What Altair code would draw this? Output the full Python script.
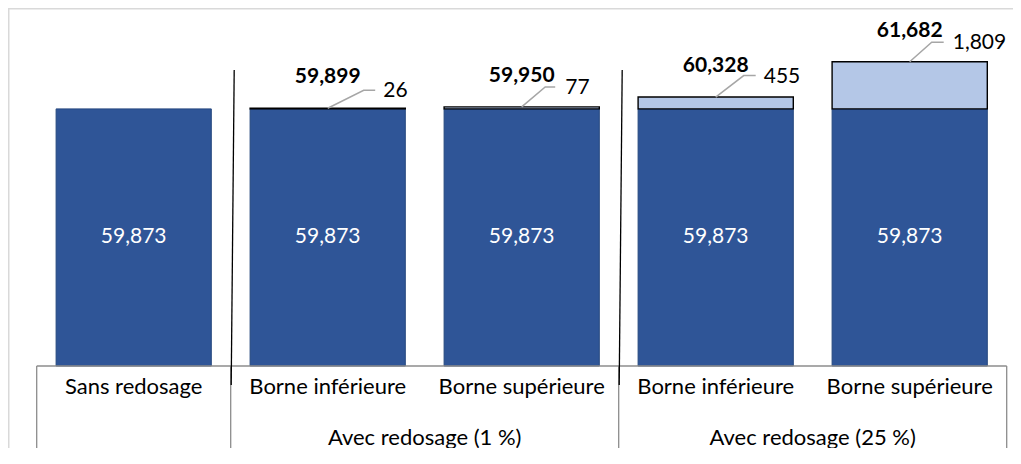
import altair as alt
import pandas as pd

# ---------------- data ----------------
categories = ["Sans redosage", "Borne inférieure", "Borne supérieure",
              "Borne inférieure", "Borne supérieure"]
groups = ["", "Avec redosage (1 %)", "Avec redosage (1 %)",
          "Avec redosage (25 %)", "Avec redosage (25 %)"]
base_values = [59873, 59873, 59873, 59873, 59873]
increments = [0, 26, 77, 455, 1809]
totals = [59873, 59899, 59950, 60328, 61682]
axis_min = 50000

# ---------------- layout / style ----------------
FONT = "Lato"
FS = 21      # numbers
FS_CAT = 22  # category table
W, H = 1005, 440
x_range = [28.7, 998.7]
y_base_px = 358
units_per_px = 38.4
y_max = axis_min + y_base_px * units_per_px
px_per_cat = (x_range[1] - x_range[0]) / len(categories)
bar_half = 0.4
# leader layout per bar in px: (elbow dx, elbow dy, end dx, label dx)
leader_layout = [None, (36, 18, 47.5, 55.5), (23.5, 20, 33.5, 43.5),
                 (28, 21.5, 40, 48), (22, 19.5, 34, 43)]

xs = alt.Scale(domain=[-0.5, len(categories) - 0.5], range=x_range, nice=False, zero=False)
ys = alt.Scale(domain=[axis_min, y_max], range=[y_base_px, 0], nice=False, zero=False)

n = len(categories)
df = pd.DataFrame({
    "idx": list(range(n)),
    "cat": categories,
    "grp": groups,
    "base": base_values,
    "inc": increments,
    "total": totals,
})
df["x0"] = df["idx"] - bar_half
df["x1"] = df["idx"] + bar_half
df["floor"] = axis_min
df["mid"] = (df["floor"] + df["base"]) / 2
dinc = df[df["inc"] > 0]

X = lambda f: alt.X(f, scale=xs, axis=None)
Y = lambda f: alt.Y(f, scale=ys, axis=None)

base_bars = alt.Chart(df).mark_rect(fill="#2F5597", stroke="#26487F", strokeWidth=1).encode(
    x=X("x0:Q"), x2="x1:Q", y=Y("floor:Q"), y2="base:Q")

inc_bars = alt.Chart(dinc).mark_rect(fill="#B4C7E7", stroke="#000000", strokeWidth=1.4).encode(
    x=X("x0:Q"), x2="x1:Q", y=Y("base:Q"), y2="total:Q")

base_labels = alt.Chart(df).mark_text(color="white", font=FONT, fontSize=FS, baseline="middle").encode(
    x=X("idx:Q"), y=Y("mid:Q"), text=alt.Text("base:Q", format=",d"))

total_labels = alt.Chart(dinc).mark_text(color="black", font=FONT, fontSize=FS, fontWeight="bold",
                                         baseline="alphabetic", dy=-25).encode(
    x=X("idx:Q"), y=Y("total:Q"), text=alt.Text("total:Q", format=",d"))

# leader lines
lead_rows, lab_rows = [], []
for i in range(n):
    if leader_layout[i] is None or increments[i] <= 0:
        continue
    ex, ey, hx, lx = leader_layout[i]
    yt = totals[i]
    ye = yt + ey * units_per_px
    lead_rows += [
        {"bar": i, "o": 0, "x": i, "y": yt},
        {"bar": i, "o": 1, "x": i + ex / px_per_cat, "y": ye},
        {"bar": i, "o": 2, "x": i + hx / px_per_cat, "y": ye},
    ]
    lab_rows.append({"x": i + lx / px_per_cat, "y": ye, "inc": increments[i]})
dlead = pd.DataFrame(lead_rows)
dlab = pd.DataFrame(lab_rows)

leaders = alt.Chart(dlead).mark_line(color="#A6A6A6", strokeWidth=1.5).encode(
    x=X("x:Q"), y=Y("y:Q"), detail="bar:N", order="o:Q")

inc_labels = alt.Chart(dlab).mark_text(color="black", font=FONT, fontSize=FS, align="left",
                                       baseline="middle", dy=1).encode(
    x=X("x:Q"), y=Y("y:Q"), text=alt.Text("inc:Q", format=",d"))

# category table
bounds = [-0.5] + [i - 0.5 for i in range(1, n) if groups[i] != groups[i - 1]] + [n - 0.5]
dh = pd.DataFrame({"a": [-0.5], "b": [n - 0.5], "y": [axis_min]})
hline = alt.Chart(dh).mark_rule(color="#8C8C8C", strokeWidth=1.3).encode(
    x=X("a:Q"), x2="b:Q", y=Y("y:Q"))
dv = pd.DataFrame({"x": bounds, "y": [axis_min] * len(bounds)})
vlines = alt.Chart(dv).mark_rule(color="#8C8C8C", strokeWidth=1.3).encode(
    x=X("x:Q"), y=Y("y:Q"), y2=alt.value(H))

inner = bounds[1:-1]
dsep = pd.DataFrame({"xt": [b + 3.5 / px_per_cat for b in inner],
                     "xb": [b + 0.5 / px_per_cat for b in inner]})
seps = alt.Chart(dsep).mark_rule(color="#000000", strokeWidth=1.3).encode(
    x=X("xt:Q"), x2="xb:Q", y=alt.value(62), y2=alt.value(377))

row1 = alt.Chart(df).mark_text(color="black", font=FONT, fontSize=FS_CAT, baseline="middle").encode(
    x=X("idx:Q"), y=alt.value(379), text="cat:N")

dg = df[df["grp"] != ""].groupby("grp", as_index=False)["idx"].mean()
row2 = alt.Chart(dg).mark_text(color="black", font=FONT, fontSize=FS_CAT, baseline="middle").encode(
    x=X("idx:Q"), y=alt.value(429.5), text="grp:N")

# outer border (left and top edges visible)
d0 = pd.DataFrame({"a": [0]})
border_top = alt.Chart(d0).mark_rule(color="#D9D9D9", strokeWidth=1.5).encode(
    x=alt.value(0), x2=alt.value(W), y=alt.value(0.75))
border_left = alt.Chart(d0).mark_rule(color="#D9D9D9", strokeWidth=1.5).encode(
    x=alt.value(0.75), y=alt.value(0), y2=alt.value(H))

chart = alt.layer(
    border_top, border_left, base_bars, inc_bars, base_labels, leaders, inc_labels,
    total_labels, hline, vlines, seps, row1, row2
).properties(width=W, height=H, padding=0, autosize="none").configure_view(stroke=None)

chart.save("out.html", embed_options={"renderer": "svg", "actions": False})
